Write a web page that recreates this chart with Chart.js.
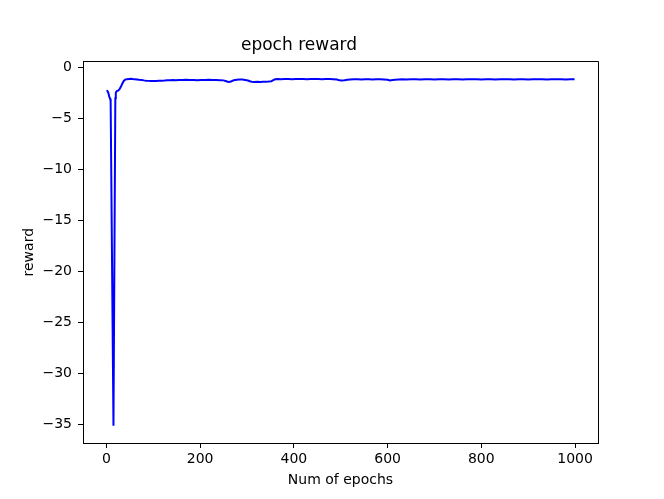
<!DOCTYPE html>
<html>
<head>
<meta charset="utf-8">
<script src="https://cdn.jsdelivr.net/npm/chart.js@4.4.1/dist/chart.umd.min.js"></script>
<style>
  body { margin: 0; background: #fff; }
  canvas { display: block; }
</style>
</head>
<body>
<canvas id="myChart" width="664" height="499"></canvas>
<script>
// epoch numbers and the reward
const epochs = [
  0, 2, 4, 6, 8, 9, 15, 19, 20, 22,
  25, 28, 31, 34, 37, 40, 44, 48, 52, 56,
  60, 65, 70, 75, 80, 85, 90, 95, 100, 106,
  112, 118, 124, 130, 136, 142, 148, 155, 162, 170,
  178, 186, 194, 202, 210, 218, 226, 234, 242, 250,
  256, 260, 264, 268, 272, 278, 284, 290, 296, 302,
  306, 310, 316, 322, 328, 334, 340, 346, 352, 356,
  360, 366, 372, 380, 388, 396, 404, 412, 420, 428,
  436, 444, 452, 460, 468, 476, 484, 492, 497, 502,
  508, 514, 520, 528, 536, 544, 552, 560, 568, 576,
  584, 592, 600, 605, 610, 616, 624, 632, 640, 650,
  660, 670, 680, 690, 700, 710, 720, 730, 740, 750,
  760, 770, 780, 790, 800, 810, 820, 830, 840, 850,
  860, 870, 880, 890, 900, 910, 920, 930, 940, 950,
  960, 970, 980, 990, 999
];
const rewards = [
  -2.32, -2.28, -2.45, -2.85, -3.05, -3.3, -35.1, -3.0, -2.45, -2.3,
  -2.25, -2.1, -1.85, -1.55, -1.3, -1.17, -1.12, -1.1, -1.09, -1.11,
  -1.12, -1.15, -1.18, -1.2, -1.24, -1.27, -1.29, -1.31, -1.3, -1.29,
  -1.27, -1.28, -1.26, -1.23, -1.22, -1.21, -1.22, -1.2, -1.21, -1.19,
  -1.21, -1.2, -1.22, -1.2, -1.21, -1.19, -1.21, -1.2, -1.22, -1.24,
  -1.33, -1.4, -1.38, -1.3, -1.22, -1.17, -1.15, -1.16, -1.2, -1.25,
  -1.32, -1.37, -1.39, -1.38, -1.4, -1.38, -1.37, -1.36, -1.32, -1.22,
  -1.13, -1.11, -1.12, -1.1, -1.11, -1.12, -1.1, -1.11, -1.1, -1.12,
  -1.11, -1.1, -1.11, -1.12, -1.1, -1.11, -1.12, -1.15, -1.24, -1.25,
  -1.22, -1.18, -1.15, -1.14, -1.13, -1.15, -1.14, -1.13, -1.15, -1.14,
  -1.13, -1.15, -1.18, -1.24, -1.21, -1.17, -1.15, -1.14, -1.15, -1.13,
  -1.14, -1.15, -1.13, -1.14, -1.15, -1.14, -1.13, -1.15, -1.14, -1.13,
  -1.15, -1.14, -1.13, -1.14, -1.15, -1.14, -1.13, -1.15, -1.14, -1.12,
  -1.14, -1.15, -1.13, -1.14, -1.15, -1.13, -1.14, -1.13, -1.15, -1.14,
  -1.13, -1.14, -1.15, -1.14, -1.14
];
const xTicks = [0, 200, 400, 600, 800, 1000];
const yTicks = [0, -5, -10, -15, -20, -25, -30, -35];

Chart.defaults.font.family = 'DejaVu Sans';
Chart.defaults.color = '#000';

const minus = (v) => String(v).replace('-', '\u2212');

// top and right spines, the axes draw the other two
const frame = {
  id: 'frame',
  afterDraw(chart) {
    const {ctx, chartArea: a} = chart;
    const top = Math.round(a.top) + 0.5;
    const right = Math.round(a.right) + 0.5;
    ctx.save();
    ctx.strokeStyle = '#000';
    ctx.lineWidth = 1;
    ctx.beginPath();
    ctx.moveTo(Math.round(a.left), top);
    ctx.lineTo(right, top);
    ctx.lineTo(right, Math.round(a.bottom) + 1);
    ctx.stroke();
    ctx.restore();
  }
};

const ctx = document.getElementById('myChart').getContext('2d');
const myChart = new Chart(ctx, {
  type: 'line',
  data: {
    datasets: [{
      label: 'reward',
      data: epochs.map((e, i) => ({x: e, y: rewards[i]})),
      borderColor: '#0000ff',
      borderWidth: 2,
      pointRadius: 0,
      tension: 0,
      fill: false
    }]
  },
  options: {
    responsive: false,
    animation: false,
    layout: { padding: { left: 0, right: 66, top: 0, bottom: 0 } },
    plugins: {
      legend: { display: false },
      tooltip: { enabled: false },
      title: {
        display: true,
        text: 'epoch reward',
        font: { size: 17, weight: 'normal' },
        padding: { top: 35, bottom: 6 }
      }
    },
    scales: {
      x: {
        type: 'linear',
        min: -50,
        max: 1049,
        afterFit: (s) => { s.height = 56; },
        afterBuildTicks: (s) => { s.ticks = xTicks.map(v => ({value: v})); },
        ticks: { font: { size: 14 }, padding: 3, callback: minus, maxRotation: 0 },
        grid: { drawOnChartArea: false, tickLength: 5, color: '#000' },
        border: { color: '#000' },
        title: { display: true, text: 'Num of epochs', font: { size: 14 }, padding: { bottom: 10 } }
      },
      y: {
        type: 'linear',
        min: -36.8,
        max: 0.62,
        afterFit: (s) => { s.width = 83; },
        afterBuildTicks: (s) => { s.ticks = yTicks.map(v => ({value: v})); },
        ticks: { font: { size: 14 }, padding: 6, callback: minus },
        grid: { drawOnChartArea: false, tickLength: 5, color: '#000' },
        border: { color: '#000' },
        title: { display: true, text: 'reward', font: { size: 14 }, padding: { top: 21 } }
      }
    }
  },
  plugins: [frame]
});
</script>
</body>
</html>
